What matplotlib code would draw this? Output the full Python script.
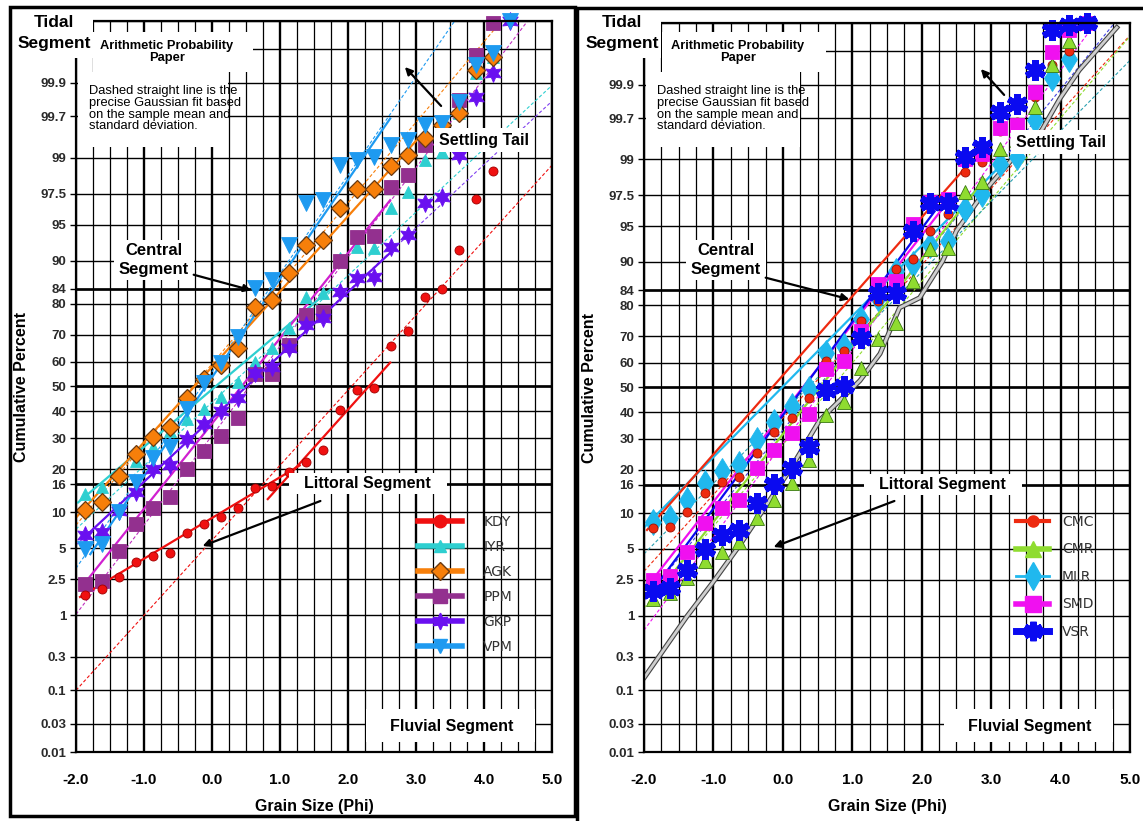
import numpy as np
import matplotlib
matplotlib.use("Agg")
import matplotlib.pyplot as plt
from matplotlib.lines import Line2D
from matplotlib.patches import Rectangle, FancyArrowPatch
from matplotlib.patheffects import Stroke, Normal
from statistics import NormalDist

# quarter-phi bin midpoints
phi = [-1.875, -1.625, -1.375, -1.125, -0.875, -0.625, -0.375, -0.125, 0.125, 0.375,
       0.625, 0.875, 1.125, 1.375, 1.625, 1.875, 2.125, 2.375, 2.625, 2.875,
       3.125, 3.375, 3.625, 3.875, 4.125, 4.375]

# left panel: cumulative percent per sample
kdy = [1.69, 1.97, 2.6, 3.7, 4.2, 4.5, 6.8, 8.1, 9.2, 10.8, 15.0, 15.5, 19.1, 22.0, 25.8,
       40.4, 48.4, 49.2, 66.1, 71.5, 82.0, 84.0, 91.8, 97.2, 98.6]
iyr = [13.6, 15.3, 18.6, 22.3, 26.8, 32.4, 36.9, 40.8, 45.9, 52.0, 60.0, 65.4, 72.5, 82.0,
       83.0, 90.5, 92.2, 92.1, 96.5, 97.6, 98.94, 99.15, 99.73, 99.93, 99.96]
agk = [10.4, 11.9, 18.0, 24.5, 30.2, 33.9, 45.2, 53.2, 58.8, 65.4, 79.2, 81.1, 87.6, 92.5,
       93.2, 96.5, 97.8, 97.8, 98.76, 99.07, 99.43, 99.61, 99.73, 99.935, 99.96]
ppm = [2.22, 2.39, 4.7, 8.1, 10.8, 13.0, 20.0, 25.5, 30.9, 37.6, 55.2, 55.2, 66.5, 76.5,
       77.7, 90.0, 93.6, 93.7, 97.9, 98.43, 99.30, 99.47, 99.82, 99.963, 99.989]
gkp = [6.6, 6.9, 10.2, 14.1, 20.0, 21.1, 29.5, 35.0, 40.0, 45.2, 55.6, 58.0, 65.4, 73.5,
       75.8, 83.3, 86.6, 86.8, 92.2, 93.9, 96.9, 97.3, 99.07, 99.84, 99.93, 99.99]
vpm = [4.9, 5.4, 10.0, 16.5, 23.5, 26.8, 40.8, 51.6, 59.6, 69.1, 84.3, 86.1, 92.5, 96.9,
       97.1, 98.79, 98.94, 99.02, 99.30, 99.39, 99.61, 99.63, 99.81, 99.946, 99.965, 99.99]

# right panel
cmc = [7.6, 7.8, 10.2, 14.1, 16.7, 18.0, 25.1, 32.4, 37.6, 45.6, 60.8, 64.6, 75.2, 81.1,
       88.7, 90.5, 94.5, 96.2, 98.6, 98.94, 99.55, 99.66, 99.85, 99.95, 99.97]
cmr = [1.53, 1.78, 2.6, 3.8, 4.7, 5.8, 9.2, 12.6, 16.5, 22.9, 38.8, 44.0, 58.0, 69.1,
       74.5, 86.1, 92.1, 92.2, 97.7, 98.2, 99.26, 99.43, 99.79, 99.95, 99.98]
mlr = [8.5, 9.2, 12.6, 16.5, 19.7, 21.7, 29.5, 36.1, 42.7, 49.2, 63.9, 66.5, 75.8, 82.0,
       88.3, 89.6, 92.7, 93.2, 96.6, 97.6, 98.88, 99.07, 99.68, 99.92, 99.96]
smd = [2.5, 2.7, 4.7, 8.4, 11.0, 12.6, 20.6, 26.1, 32.0, 39.2, 57.6, 60.8, 71.9, 85.5,
       86.1, 95.2, 97.1, 97.25, 99.02, 99.15, 99.59, 99.63, 99.87, 99.969, 99.987, 99.99]
vsr = [1.87, 2.06, 3.16, 5.0, 6.6, 7.3, 11.9, 16.2, 20.6, 27.1, 48.8, 50.8, 69.4, 83.3,
       83.3, 94.5, 97.0, 97.0, 99.07, 99.30, 99.75, 99.81, 99.94, 99.987, 99.989, 99.99]

# central segment fits: (phi0, phi1), (pct0, pct1)
kdy_fit = [([-1.94, 1.29], [1.61, 21.1]), ([0.82, 2.62], [12.6, 59.6])]
iyr_fit = [([-1.97, 1.74], [11.9, 83.8])]
agk_fit = [([-1.985, 3.10], [9.3, 99.50])]
ppm_fit = [([-1.94, 2.62], [1.97, 97.1])]
gkp_fit = [([-1.91, 2.62], [6.0, 91.3])]
vpm_fit = [([-1.79, 2.62], [4.4, 99.68])]
cmc_fit = [([-1.957, 2.619], [7.3, 98.73])]
cmr_fit = [([-1.885, 2.906], [1.53, 98.31])]
mlr_fit = [([-1.986, 3.122], [7.8, 98.79])]
smd_fit = [([-1.942, 2.403], [2.17, 97.25])]
vsr_fit = [([-1.942, 2.187], [1.65, 96.4])]

# gaussian fits: sample mean and standard deviation (phi)
left_mean = [2.05, 0.25, -0.28, 0.55, 0.5, -0.15]
left_sd = [1.31, 1.55, 1.22, 1.1, 1.55, 1.0]
right_mean = [0.4, 0.7, 0.36, 0.6, 0.5]
right_sd = [1.28, 1.2, 1.39, 1.05, 1.15]

# composite curve on the right panel
sketch_phi = [-1.99, -1.38, -1.01, -0.62, 0.10, 0.53, 1.11, 1.40, 1.68, 1.97, 2.30, 2.50,
              2.94, 3.31, 3.73, 3.99, 4.27, 4.81]
sketch_pct = [0.157, 0.98, 2.33, 5.4, 20.0, 36.9, 52.8, 63.5, 79.2, 82.0, 90.1, 94.5,
              97.9, 99.02, 99.57, 99.84, 99.94, 99.988]

prob_ticks = [0.01, 0.03, 0.1, 0.3, 1, 2.5, 5, 10, 16, 20, 30, 40, 50, 60, 70, 80, 84, 90,
              95, 97.5, 99, 99.7, 99.9, 99.97, 99.99]
prob_labels = ['0.01', '0.03', '0.1', '0.3', '1', '2.5', '5', '10', '16', '20', '30', '40',
               '50', '60', '70', '80', '84', '90', '95', '97.5', '99', '99.7', '99.9', '', '']
phi_ticks = [-2, -1, 0, 1, 2, 3, 4, 5]
phi_labels = ['-2.0', '-1.0', '0.0', '1.0', '2.0', '3.0', '4.0', '5.0']
phi_minor = [-1.75, -1.5, -1.25, -0.75, -0.5, -0.25, 0.25, 0.5, 0.75, 1.25, 1.5, 1.75,
             2.25, 2.5, 2.75, 3.25, 3.5, 3.75, 4.25, 4.5, 4.75]

_nd = NormalDist()
_ppf = np.vectorize(_nd.inv_cdf, otypes=[float])
_cdf = np.vectorize(_nd.cdf, otypes=[float])


def prob_fwd(p):
    q = np.clip(np.asarray(p, dtype=float) / 100.0, 1e-12, 1 - 1e-12)
    return _ppf(q)


def prob_inv(z):
    return _cdf(np.asarray(z, dtype=float)) * 100.0


W, H = 1143, 821
BOLD = dict(family='Liberation Sans', weight='bold', color='black')


def fpos(x, y):
    return x / W, 1 - y / H


def white_box(fig, x0, y0, x1, y1):
    fig.add_artist(Rectangle(fpos(x0, y1), (x1 - x0) / W, (y1 - y0) / H,
                             transform=fig.transFigure, facecolor='white',
                             edgecolor='none', zorder=3))


def label(fig, x, y, s, size=12, spacing=1.05):
    fig.text(*fpos(x, y), s, ha='center', va='center', fontsize=size, zorder=4,
             linespacing=spacing, **BOLD)


def arrow(fig, x0, y0, x1, y1):
    fig.add_artist(FancyArrowPatch(fpos(x0, y0), fpos(x1, y1), transform=fig.transFigure,
                                   arrowstyle='-|>', mutation_scale=11, lw=1.6,
                                   color='black', zorder=4))


def setup_axes(ax):
    ax.set_yscale('function', functions=(prob_fwd, prob_inv))
    ax.set_xlim(-2, 5)
    ax.set_ylim(0.01, 99.99)
    ax.set_yticks(prob_ticks)
    ax.set_yticklabels(prob_labels)
    ax.yaxis.set_minor_locator(matplotlib.ticker.NullLocator())
    ax.set_xticks(phi_ticks)
    ax.set_xticklabels(phi_labels)
    ax.set_xticks(phi_minor, minor=True)
    ax.set_axisbelow(True)
    ax.grid(True, which='major', axis='x', color='black', lw=1.7)
    ax.grid(True, which='minor', axis='x', color='black', lw=0.9)
    ax.grid(True, which='major', axis='y', color='black', lw=1.0)
    for p in [16, 50, 84]:
        ax.axhline(p, color='black', lw=1.9, zorder=0.6)
    ax.tick_params(axis='y', length=4, width=1, pad=3, labelsize=9.5, labelcolor='#2a2a2a')
    ax.tick_params(axis='x', which='both', length=0, pad=15, labelsize=11)
    for t in ax.get_xticklabels() + ax.get_yticklabels():
        t.set_fontweight('bold')
        t.set_family('Liberation Sans')
    for s in ax.spines.values():
        s.set_linewidth(1.6)
    ax.set_xlabel('Grain Size (Phi)', fontsize=11.5, labelpad=9, **BOLD)
    ax.set_ylabel('Cumulative Percent', fontsize=11.5, labelpad=8, **BOLD)


def draw_gauss(ax, means, sds, colors):
    ends = np.array([-2.0, 5.0])
    for m, s, c in zip(means, sds, colors):
        pct = prob_inv((ends - m) / s)
        ax.plot(ends, pct, color=c, lw=0.8, ls=(0, (3, 2)), zorder=1.5)


def draw_series(ax, values, fits, color, marker, ms, fitcolor=None, mec=None, mew=0.6):
    for xs, ps in fits:
        ax.plot(xs, ps, color=fitcolor or color, lw=1.6, zorder=2)
    ax.plot(phi[:len(values)], values, ls='none', marker=marker, ms=ms, color=color,
            mec=mec or color, mew=mew, zorder=2.5, clip_on=False)


fig = plt.figure(figsize=(W / 100, H / 100), dpi=100)
axL = fig.add_axes([76 / W, 1 - 752 / H, 476 / W, 731 / H])
axR = fig.add_axes([644 / W, 1 - 752 / H, 486 / W, 729 / H])
setup_axes(axL)
setup_axes(axR)

# left panel
c_kdy, c_iyr, c_agk, c_ppm, c_gkp, c_vpm = '#f01010', '#2ecfd0', '#f77f0a', '#93308f', '#6a10f0', '#1e9af0'
draw_gauss(axL, left_mean, left_sd, [c_kdy, c_iyr, c_agk, '#c030c0', '#8040f0', c_vpm])
draw_series(axL, iyr, iyr_fit, c_iyr, '^', 9)
draw_series(axL, ppm, ppm_fit, c_ppm, 's', 10, fitcolor='#d020d0')
draw_series(axL, gkp, gkp_fit, c_gkp, (6, 1, 0), 13)
draw_series(axL, agk, agk_fit, c_agk, 'D', 9, mec='#6b3a10', mew=0.9)
draw_series(axL, vpm, vpm_fit, c_vpm, 'v', 11)
draw_series(axL, kdy, kdy_fit, c_kdy, 'o', 6.5, mec='#a00000')

hL = [Line2D([], [], color=c_kdy, lw=4, marker='o', ms=9),
      Line2D([], [], color=c_iyr, lw=4, marker='^', ms=9),
      Line2D([], [], color=c_agk, lw=4, marker='D', ms=9, mec='#6b3a10'),
      Line2D([], [], color=c_ppm, lw=4, marker='s', ms=10),
      Line2D([], [], color=c_gkp, lw=4, marker=(6, 1, 0), ms=12),
      Line2D([], [], color=c_vpm, lw=4, marker='v', ms=10)]
fig.legend(hL, ['KDY', 'IYR', 'AGK', 'PPM', 'GKP', 'VPM'], loc='upper left',
           bbox_to_anchor=fpos(418, 515), frameon=False, fontsize=10, handlelength=3.2,
           handletextpad=1.5, labelspacing=0.79, borderpad=0, borderaxespad=0,
           labelcolor='#333333')

# right panel
c_cmc, c_cmr, c_mlr, c_smd, c_vsr = '#ee2a10', '#8fdc30', '#20b8ee', '#f010f0', '#0a0af0'
draw_gauss(axR, right_mean, right_sd, [c_cmc, c_cmr, '#2aa0b0', c_smd, '#4040e0'])
axR.plot(sketch_phi, sketch_pct, color='#cfcfcf', lw=2.0, zorder=1.8,
         path_effects=[Stroke(linewidth=3.6, foreground='#444444'), Normal()])
draw_series(axR, mlr, mlr_fit, c_mlr, 'd', 13)
draw_series(axR, cmc, cmc_fit, c_cmc, 'o', 6.5, mec='#a01000')
draw_series(axR, cmr, cmr_fit, c_cmr, '^', 10, mec='#3a7a10')
draw_series(axR, smd, smd_fit, c_smd, 's', 10)
draw_series(axR, vsr, vsr_fit, c_vsr, (6, 2, 0), 15, mew=4.5)

hR = [Line2D([], [], color=c_cmc, lw=3, marker='o', ms=8),
      Line2D([], [], color=c_cmr, lw=4, marker='^', ms=11),
      Line2D([], [], color=c_mlr, lw=2, marker='d', ms=14),
      Line2D([], [], color=c_smd, lw=4, marker='s', ms=11),
      Line2D([], [], color=c_vsr, lw=5, marker=(6, 2, 0), ms=14, mew=4.5)]
fig.legend(hR, ['CMC', 'CMR', 'MLR', 'SMD', 'VSR'], loc='upper left',
           bbox_to_anchor=fpos(1016, 515), frameon=False, fontsize=10, handlelength=2.4,
           handletextpad=0.9, labelspacing=0.97, borderpad=0, borderaxespad=0,
           labelcolor='#333333')

note = 'Dashed straight line is the\nprecise Gaussian fit based\non the sample mean and\nstandard deviation.'

# annotation boxes, left panel then right panel
for dx, ax0, ax1, nx1, cen, sett, litt, fluv in [
        (0, 93, 253, 228, (154, 260), (484, 140), (367, 483), (452, 726)),
        (568, 662, 826, 800, (726, 260), (1061, 142), (942, 484), (1030, 726))]:
    white_box(fig, 13 + dx, 10, 93 + dx if dx == 0 else 661, 58)
    white_box(fig, ax0, 32, ax1, 72)
    white_box(fig, 78 + dx if dx == 0 else 646, 72, nx1, 147)
    white_box(fig, cen[0] - 40, cen[1] - 20, cen[0] + 40, cen[1] + 20)
    white_box(fig, sett[0] - 50, sett[1] - 12, sett[0] + 50, sett[1] + 12)
    white_box(fig, litt[0] - 78, litt[1] - 10, litt[0] + 80, litt[1] + 11)
    white_box(fig, fluv[0] - 86, fluv[1] - 17, fluv[0] + 83, fluv[1] + 16)
    label(fig, 54 + dx if dx == 0 else 622, 33, 'Tidal\nSegment', size=12.5, spacing=1.45)
    label(fig, (ax0 + ax1) / 2 - 6, 52, 'Arithmetic Probability\nPaper', size=9.3)
    fig.text(*fpos(89 if dx == 0 else 657, 85), note, ha='left', va='top', fontsize=9.3,
             family='Liberation Sans', linespacing=0.98, zorder=4)
    label(fig, *cen, 'Central\nSegment', size=12, spacing=1.3)
    label(fig, *sett, 'Settling Tail', size=11.5)
    label(fig, *litt, 'Littoral Segment', size=11.5)
    label(fig, *fluv, 'Fluvial Segment', size=11.5)

arrow(fig, 191, 274, 254, 291)
arrow(fig, 443, 108, 403, 65)
arrow(fig, 323, 500, 200, 547)
arrow(fig, 763, 277, 852, 300)
arrow(fig, 1006, 97, 979, 67)
arrow(fig, 897, 500, 771, 548)

# panel frames
fig.add_artist(Rectangle(fpos(10, 816), 565 / W, 809 / H, transform=fig.transFigure,
                         fill=False, lw=2.5, edgecolor='black', zorder=5))
fig.add_artist(Rectangle(fpos(577, 830), 600 / W, 822 / H, transform=fig.transFigure,
                         fill=False, lw=2.5, edgecolor='black', zorder=5, clip_on=False))

fig.savefig('out.png', dpi=100)
